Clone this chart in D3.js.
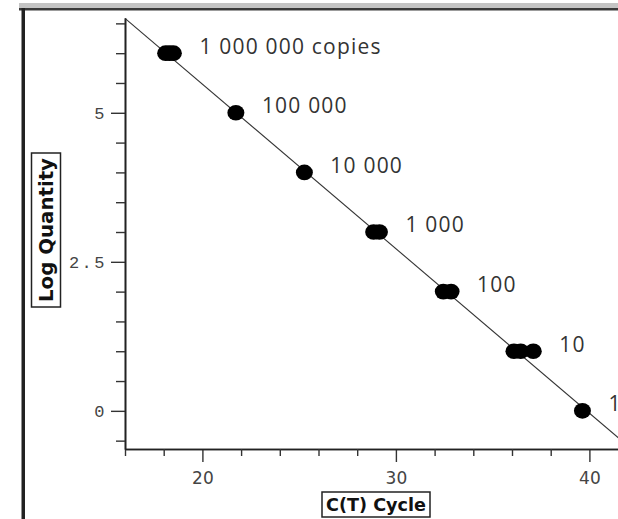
<!DOCTYPE html>
<html>
<head>
<meta charset="utf-8">
<script src="https://cdn.jsdelivr.net/npm/d3@7"></script>
<style>
  html, body { margin: 0; padding: 0; background: #fff; }
  svg { display: block; }
</style>
</head>
<body>
<svg id="chart" width="618" height="519"></svg>
<script>
// ---- data ----
const ctValues   = [18.1, 18.3, 18.5, 21.73, 25.27, 28.85, 29.15, 32.45, 32.85, 36.1, 36.45, 37.1, 39.64];
const logQty     = [6, 6, 6, 5, 4, 3, 3, 2, 2, 1, 1, 1, 0];
const groupLogs  = [6, 5, 4, 3, 2, 1, 0];
const groupLabels = ["1 000 000 copies", "100 000", "10 000", "1 000", "100", "10", "1"];
const fitSlope = -0.276;
const fitIntercept = 11.0;
const xMajorTicks = [20, 30, 40];
const xMinorTicks = [16, 18, 22, 24, 26, 28, 32, 34, 36, 38, 42];
const yMajorTicks = [0, 2.5, 5];
const yMinorTicks = [-0.5, 0.5, 1, 1.5, 2, 3, 3.5, 4, 4.5, 5.5, 6, 6.5];
const xTitle = "C(T) Cycle";
const yTitle = "Log Quantity";

// ---- layout ----
const svg = d3.select("#chart");
const x = d3.scaleLinear().domain([16, 42]).range([125, 125 + 26 * 19.35]);
const y = d3.scaleLinear().domain([-0.64, 6.59]).range([449, 18]);

// window frame
svg.append("rect").attr("x", 19).attr("y", 3).attr("width", 600).attr("height", 5).attr("fill", "#c4c4c4");
svg.append("rect").attr("x", 19).attr("y", 8).attr("width", 600).attr("height", 2.5).attr("fill", "#3a3a3a");
svg.append("rect").attr("x", 21.5).attr("y", 8).attr("width", 3.5).attr("height", 511).attr("fill", "#222");

// axes
const xAxisG = svg.append("g").attr("transform", `translate(0,${y.range()[0]})`);
xAxisG.call(d3.axisBottom(x).tickValues(xMajorTicks).tickSize(13).tickSizeOuter(0).tickPadding(10).tickFormat(d3.format("d")));
xAxisG.append("g").call(d3.axisBottom(x).tickValues(xMinorTicks).tickSize(7).tickSizeOuter(0).tickFormat(""));
xAxisG.selectAll(".domain").attr("stroke", "#222").attr("stroke-width", 1.6);
xAxisG.selectAll("g.tick line").attr("stroke", "#333").attr("stroke-width", 1.4);
xAxisG.selectAll("text").attr("font-family", "DejaVu Sans").attr("font-size", 17).attr("fill", "#444");

const yAxisG = svg.append("g").attr("transform", `translate(${x.range()[0]},0)`);
yAxisG.call(d3.axisLeft(y).tickValues(yMajorTicks).tickSize(14).tickSizeOuter(0).tickPadding(4).tickFormat(d => d3.format("")(d)));
yAxisG.append("g").call(d3.axisLeft(y).tickValues(yMinorTicks).tickSize(9).tickSizeOuter(0).tickFormat(""));
yAxisG.selectAll(".domain").attr("stroke", "#222").attr("stroke-width", 1.6);
yAxisG.selectAll("g.tick line").attr("stroke", "#333").attr("stroke-width", 1.4);
yAxisG.selectAll("text").attr("font-family", "Liberation Mono").attr("font-size", 17).attr("fill", "#444").attr("letter-spacing", 2.5);

// fit line
const xd = x.domain();
svg.append("line")
  .attr("x1", x(xd[0])).attr("y1", y(fitIntercept + fitSlope * xd[0]))
  .attr("x2", x(xd[1])).attr("y2", y(fitIntercept + fitSlope * xd[1]))
  .attr("stroke", "#333").attr("stroke-width", 1.1);

// points
svg.append("g").selectAll("ellipse").data(ctValues.map((c, i) => [c, logQty[i]])).join("ellipse")
  .attr("cx", d => x(d[0])).attr("cy", d => y(d[1]))
  .attr("rx", 8.5).attr("ry", 7.8).attr("fill", "#000");

// labels
svg.append("g").selectAll("text").data(groupLabels).join("text")
  .attr("x", (d, i) => x(d3.max(ctValues.filter((c, j) => logQty[j] === groupLogs[i]))) + 26)
  .attr("y", (d, i) => y(groupLogs[i]) - 7)
  .attr("dy", "0.35em")
  .attr("font-family", "Open Sans").attr("font-size", 21).attr("letter-spacing", 1.2)
  .attr("fill", "#333")
  .text(d => d);

// axis titles
const xt = svg.append("g");
xt.append("rect").attr("x", 322).attr("y", 492).attr("width", 108).attr("height", 25)
  .attr("fill", "#fff").attr("stroke", "#222").attr("stroke-width", 1.5);
xt.append("text").attr("x", 376).attr("y", 505).attr("dy", "0.35em").attr("text-anchor", "middle")
  .attr("font-family", "DejaVu Sans").attr("font-weight", "bold").attr("font-size", 17)
  .attr("textLength", 100).attr("lengthAdjust", "spacingAndGlyphs").attr("fill", "#111").text(xTitle);

const yt = svg.append("g").attr("transform", "translate(46,230) rotate(-90)");
yt.append("rect").attr("x", -77).attr("y", -14.5).attr("width", 154).attr("height", 29)
  .attr("fill", "#fff").attr("stroke", "#222").attr("stroke-width", 1.5);
yt.append("text").attr("x", 0).attr("y", 0).attr("dy", "0.35em").attr("text-anchor", "middle")
  .attr("font-family", "DejaVu Sans").attr("font-weight", "bold").attr("font-size", 19)
  .attr("textLength", 144).attr("lengthAdjust", "spacingAndGlyphs").attr("fill", "#111").text(yTitle);
</script>
</body>
</html>
